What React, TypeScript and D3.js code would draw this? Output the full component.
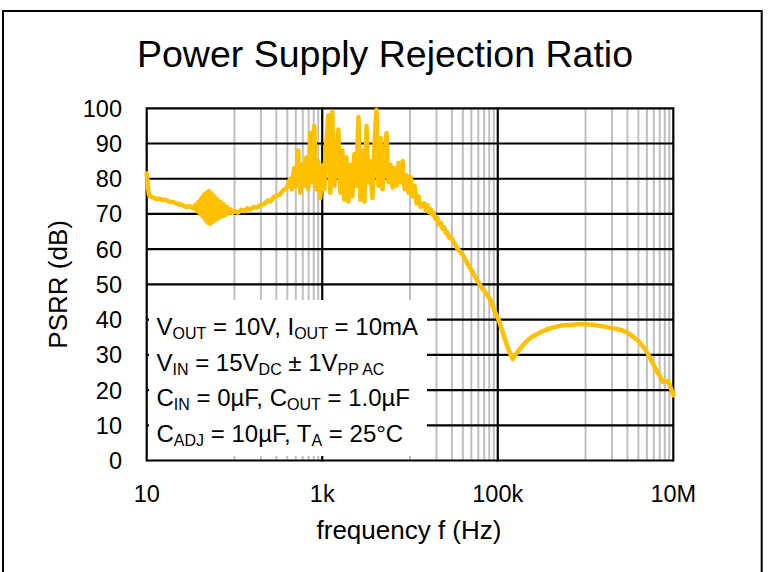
import React from 'react';
import * as d3 from 'd3';

const freqHz = [
  10, 10.3, 10.6, 11, 12, 13, 14, 15, 16, 18, 20, 22, 25, 28, 31, 34, 36, 37.5, 39, 40.5, 42, 43.5, 45, 46.5, 48, 49.5,
  51, 53, 55, 57, 59, 61, 63.5, 66, 69, 72, 75, 78, 82, 86, 90, 95, 100, 110, 120, 130, 140, 150, 165, 180, 200,
  220, 240, 260, 280, 300, 330, 360, 390, 410,
  431, 442, 454, 466, 479, 492, 505, 518, 532, 546, 561, 576, 591, 607, 623, 640, 657, 674, 692, 711, 730, 749,
  769, 790, 811, 833, 855, 878, 901, 925, 950, 975, 1001, 1028, 1055, 1083, 1112, 1142, 1173, 1204, 1236, 1269,
  1303, 1338, 1373, 1410, 1448, 1486, 1526, 1566, 1608, 1651, 1695, 1740, 1787, 1835, 1884, 1934, 1986, 2039,
  2093, 2149, 2206, 2265, 2326, 2388, 2452, 2517, 2584, 2653, 2724, 2797, 2871, 2948, 3027, 3107, 3190, 3275,
  3363, 3453, 3545, 3640, 3737, 3837, 3939, 4044, 4152, 4263, 4377, 4494, 4614, 4737, 4863, 4993, 5126, 5263,
  5404, 5548, 5696, 5848, 6004, 6164, 6329, 6498, 6672, 6850, 7033, 7220, 7413, 7611, 7815, 8023, 8237, 8457,
  8683, 8915, 9153, 9397, 9648, 9905, 10170, 10441, 10720, 11006, 11300, 11602, 11912, 12230, 12556, 12891, 13236,
  14500, 15200, 15800, 16500, 17300, 18000, 18600, 19500, 20500, 21500, 22500, 23500, 24500, 25500, 26500,
  28000, 29500, 31400, 33000, 35000, 38000, 40800, 45000, 50000, 54000, 58600, 66000, 72000, 76400, 83000,
  92000, 103000, 115000, 128000, 140000, 148000, 155000, 170000, 190000, 215000, 250000, 300000, 360000,
  430000, 520000, 650000, 800000, 1000000, 1250000, 1500000, 1800000, 2200000, 2600000, 3000000, 3500000,
  4000000, 4500000, 5000000, 5600000, 6300000, 7000000, 7600000, 8100000, 8700000, 9300000, 10000000,
];

const psrrDb = [
  81.5, 78, 75.5, 75, 74.6, 74.2, 74.4, 73.9, 74.1, 73.5, 73.4, 72.9, 72.6, 72.0, 72.2, 71.6, 72.6, 70.8, 73.5, 70,
  74.5, 69.2, 75.5, 68.3, 76, 67.5, 76.5, 67.2, 75.8, 67.8, 75, 68.3, 74.2, 68.8, 73.5, 69.3, 72.8, 69.6, 72, 70.2,
  71.3, 70.3, 70.8, 70.4, 71.2, 70.8, 71.6, 71.2, 72, 71.8, 72.6, 72.9, 73.8, 73.6, 74.8, 75.2, 75.5, 76.8, 77.2, 78.5,
  80, 78.5, 77, 81, 83, 79.5, 78, 84, 88, 80, 76, 82, 84, 79, 78, 83, 86, 80, 77, 85, 93, 82,
  79, 88, 95, 84, 77, 81, 85, 79, 74.5, 80, 82, 84, 77, 86, 90, 94, 98, 85, 76, 88,
  99, 84, 78, 83, 89, 91, 94, 82, 76, 80, 88, 81, 74, 80, 86, 79, 73.5, 79,
  84, 80, 75, 82, 87, 83, 78, 89, 97.5, 83, 74, 81, 88, 80, 73.5, 84, 95, 86,
  79, 82, 85, 78, 74.5, 82, 90, 95, 99.5, 86, 78, 85, 91.5, 82, 77, 81, 86, 90,
  93, 84, 79, 82, 84, 80, 77.5, 80, 83, 80, 78, 81, 84.5, 81, 79, 82, 85, 80,
  77, 79, 81, 78, 76, 78, 80.5, 77, 75, 76.5, 78, 75, 73, 74, 75, 73, 72,
  73, 71, 72.5, 70.5, 71.3, 69.8, 70.3, 68.5, 68.8, 67, 67.4, 65.8, 66.2, 64.6, 64.8, 63.2, 63.4, 61.9, 61.2, 60,
  59, 58, 56, 54, 52.6, 51.1, 49, 47.8, 46.9, 45.3, 42.5, 39.8, 36, 32.5, 30, 28.8, 29.6, 31, 32.5, 34, 35.3, 36.3,
  37.2, 37.8, 38.3, 38.5, 38.7, 38.7, 38.5, 38.2, 37.8, 37.4, 37, 36.3, 35.1, 33.9, 32.4, 30.8, 28.5, 26, 24, 22.3,
  22.4, 22.6, 20.8, 18.5,
];

const yTicks = [0, 10, 20, 30, 40, 50, 60, 70, 80, 90, 100];
const xLabelValues = [10, 1e3, 1e5, 1e7];
const xLabelText = ['10', '1k', '100k', '10M'];
const majorX = [10, 1e3, 1e5, 1e7];
const grayDecades = [100, 1e4, 1e6];
const minorMult = [1, 2, 3, 4, 5, 6, 7, 8, 9];

const noteLines: [string, boolean][][] = [
  [['V', false], ['OUT', true], [' = 10V, I', false], ['OUT', true], [' = 10mA', false]],
  [['V', false], ['IN', true], [' = 15V', false], ['DC', true], [' ± 1V', false], ['PP AC', true]],
  [['C', false], ['IN', true], [' = 0µF, C', false], ['OUT', true], [' = 1.0µF', false]],
  [['C', false], ['ADJ', true], [' = 10µF, T', false], ['A', true], [' = 25°C', false]],
];

const FONT = "'Liberation Sans', Arial, Helvetica, sans-serif";

export default function App() {
  const x = d3.scaleLog().domain([10, 1e7]).range([146.7, 673.3]);
  const y = d3.scaleLinear().domain([0, 100]).range([460.5, 108.3]);
  const pts: [number, number][] = freqHz.map((f, i) => [f, psrrDb[i]]);
  const line = d3.line<[number, number]>().x((d) => x(d[0])).y((d) => y(d[1]));
  const grayX: number[] = [];
  grayDecades.forEach((d) => minorMult.forEach((m) => grayX.push(d * m)));

  const [x0, x1] = x.range();
  const [yb, yt] = y.range();

  return (
    <svg width={768} height={572} style={{ position: 'absolute', left: 0, top: 0, background: '#fff' }} fontFamily={FONT}>
      <rect x={0} y={0} width={768} height={572} fill="#fff" />
      <rect x={3} y={11} width={758.7} height={620} fill="none" stroke="#000" strokeWidth={2} />
      <text x={385} y={67} textAnchor="middle" fontSize={37.5} fill="#000">Power Supply Rejection Ratio</text>

      {grayX.map((v, i) => (
        <line key={'g' + i} x1={x(v)} x2={x(v)} y1={yb} y2={yt} stroke="#BFBFBF" strokeWidth={2} />
      ))}
      {yTicks.map((t) => (
        <line key={'h' + t} x1={x0} x2={x1} y1={y(t)} y2={y(t)} stroke="#000" strokeWidth={2.2} />
      ))}
      {majorX.map((v) => (
        <line key={'m' + v} x1={x(v)} x2={x(v)} y1={yb + 1} y2={yt - 1} stroke="#000" strokeWidth={2.2} />
      ))}

      <path d={line(pts) || ''} fill="none" stroke="#FFC000" strokeWidth={4.5} strokeLinejoin="round" strokeLinecap="round" />

      <rect x={149} y={300} width={278} height={156} fill="#fff" />
      {noteLines.map((segs, li) => {
        let shift = 0;
        return (
          <text key={'n' + li} x={156.5} y={335 + li * 35.5} fontSize={24} fill="#000" style={{ whiteSpace: 'pre' }}>
            {segs.map(([s, sub], si) => {
              const target = sub ? 4 : 0;
              const dy = target - shift;
              shift = target;
              return (
                <tspan key={si} dy={dy} fontSize={sub ? 16 : 24}>{s}</tspan>
              );
            })}
          </text>
        );
      })}

      {yTicks.map((t) => (
        <text key={'yl' + t} x={122} y={y(t) + 8.5} textAnchor="end" fontSize={23.5} fill="#000">{t}</text>
      ))}
      {xLabelValues.map((v, i) => (
        <text key={'xl' + v} x={x(v)} y={502} textAnchor="middle" fontSize={23.5} fill="#000">{xLabelText[i]}</text>
      ))}
      <text x={409} y={539} textAnchor="middle" fontSize={26} fill="#000">frequency f (Hz)</text>
      <text transform={`translate(67,${(yb + yt) / 2}) rotate(-90)`} textAnchor="middle" fontSize={26} fill="#000">PSRR (dB)</text>
    </svg>
  );
}
